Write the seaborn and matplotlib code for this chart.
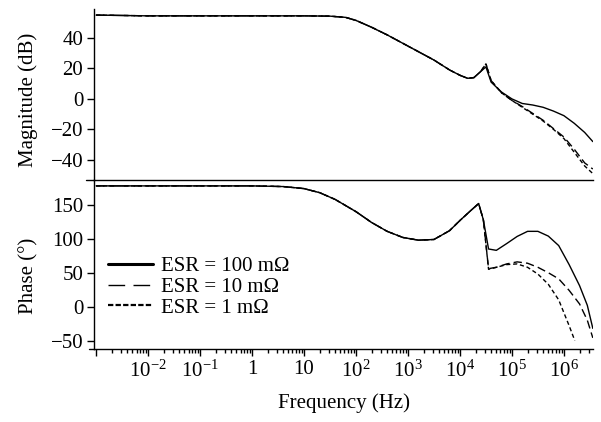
import numpy as np
import pandas as pd
import matplotlib
matplotlib.use("Agg")
import matplotlib.pyplot as plt
import seaborn as sns
from matplotlib.lines import Line2D
from matplotlib.ticker import LogLocator, FuncFormatter, NullFormatter

# -----------------------------
# Data
# -----------------------------
esr_labels = ["ESR = 100 mΩ", "ESR = 10 mΩ", "ESR = 1 mΩ"]

# magnitude (dB)
freq_mag = [1e-3, 1e-2, 1e-1, 1, 10, 31.6, 63.1, 100, 200, 398, 794, 1585,
            3162, 6310, 1e4, 1.41e4, 1.86e4, 2.51e4, 3.16e4, 3.98e4, 6.31e4,
            1e5, 1.58e5, 2.51e5, 3.98e5, 6.31e5, 1e6, 1.58e6, 2.51e6, 3.6e6]
mag_100 = [55, 54.5, 54.5, 54.5, 54.5, 54.3, 53.5, 51.5, 47, 42, 36.5, 31,
           25.5, 19, 15.5, 13.5, 14, 18, 21, 11, 4.5,
           0, -3, -4, -5.5, -8, -11, -16, -22, -28]
mag_10 = [55, 54.5, 54.5, 54.5, 54.5, 54.3, 53.5, 51.5, 47, 42, 36.5, 31,
          25.5, 19, 15.5, 13.5, 14, 18, 23, 12, 4,
          -1, -5, -9.5, -14, -19.5, -25, -33, -42, -46]
mag_1 = [55, 54.5, 54.5, 54.5, 54.5, 54.3, 53.5, 51.5, 47, 42, 36.5, 31,
         25.5, 19, 15.5, 13.5, 14, 18, 23, 12, 4,
         -1, -5.5, -10, -14.5, -20, -26, -35, -44, -49]

# phase (deg)
freq_ph = [1e-3, 1e-2, 1e-1, 1, 3.98, 10, 20, 39.8, 100, 200, 398, 794, 1585,
           3162, 6310, 1e4, 1.58e4, 2.29e4, 2.82e4, 3.55e4, 5.01e4, 7.94e4,
           1.26e5, 2e5, 3.16e5, 5.01e5, 7.94e5, 1.26e6, 2e6, 2.82e6, 3.6e6]
phase_100 = [178, 178, 178, 178, 177, 174, 168, 158, 140, 124, 111, 102, 98,
             99, 112, 127, 141, 152, 128, 85, 83, 93,
             103.5, 111, 111, 104, 90, 62, 31, 2, -32]
phase_10 = [178, 178, 178, 178, 177, 174, 168, 158, 140, 124, 111, 102, 98,
            99, 112, 127, 141, 152, 128, 56, 58, 63,
            66, 64, 58, 50, 41, 24, 4, -20, -46]
freq_ph_1 = [1e-3, 1e-2, 1e-1, 1, 3.98, 10, 20, 39.8, 100, 200, 398, 794, 1585,
             3162, 6310, 1e4, 1.58e4, 2.29e4, 2.82e4, 3.55e4, 5.01e4, 7.94e4,
             1.26e5, 2e5, 3.16e5, 5.01e5, 7.94e5, 1.26e6, 1.62e6]
phase_1 = [178, 178, 178, 178, 177, 174, 168, 158, 140, 124, 111, 102, 98,
           99, 112, 127, 141, 152, 128, 55, 58, 62,
           63, 58, 48, 33, 10, -28, -50]

mag_ticks = [-40, -20, 0, 20, 40]
phase_ticks = [-50, 0, 50, 100, 150]


def long_form(series):
    frames = []
    for label, (f, v) in zip(esr_labels, series):
        frames.append(pd.DataFrame({"freq": f, "value": v, "esr": label}))
    return pd.concat(frames, ignore_index=True)


df_mag = long_form([(freq_mag, mag_100), (freq_mag, mag_10), (freq_mag, mag_1)])
df_ph = long_form([(freq_ph, phase_100), (freq_ph, phase_10), (freq_ph_1, phase_1)])

# -----------------------------
# Style
# -----------------------------
sns.set_style("ticks")
plt.rcParams["font.family"] = ["Liberation Serif", "DejaVu Serif"]
plt.rcParams["mathtext.fontset"] = "custom"
plt.rcParams["mathtext.rm"] = "Liberation Serif"
plt.rcParams["mathtext.it"] = "Liberation Serif:italic"
plt.rcParams["font.size"] = 15
plt.rcParams["axes.linewidth"] = 1.0
for key in ["text.color", "axes.labelcolor", "axes.edgecolor",
            "xtick.color", "ytick.color"]:
    plt.rcParams[key] = "black"

FS = 15
palette = {lab: "black" for lab in esr_labels}
dashes = {esr_labels[0]: "", esr_labels[1]: (6, 3), esr_labels[2]: (3, 2)}

fig = plt.figure(figsize=(6.01, 4.22), dpi=100)
ax_ph = fig.add_axes([0.1572, 0.1730, 0.8295, 0.4005])
ax_mag = fig.add_axes([0.1572, 0.5742, 0.8295, 0.4045])
ax_mag.patch.set_alpha(0)

for ax, df in [(ax_mag, df_mag), (ax_ph, df_ph)]:
    ax.set_xscale("log")
    sns.lineplot(data=df, x="freq", y="value", hue="esr", style="esr",
                 palette=palette, dashes=dashes, estimator=None, sort=False,
                 lw=1.0, legend=False, ax=ax)
    ax.set_xlim(9.3e-4, 3.63e6)
    sns.despine(ax=ax)
    ax.tick_params(axis="y", direction="out", length=5, width=1, pad=3,
                   labelsize=FS)
    ax.set_xlabel("")

# magnitude panel
ax_mag.set_ylim(-53, 59)
ax_mag.set_yticks(mag_ticks)
ax_mag.tick_params(axis="x", which="both", bottom=False, labelbottom=False)
ax_mag.set_ylabel("Magnitude (dB)", fontsize=FS)
ax_mag.yaxis.set_label_coords(-0.113, 0.467)
ax_mag.plot([-0.017, 0], [0, 0], transform=ax_mag.transAxes, color="black",
            lw=1.0, clip_on=False)

# phase panel
ax_ph.set_ylim(-62.4, 186.7)
ax_ph.set_yticks(phase_ticks)
ax_ph.set_ylabel("Phase (°)", fontsize=FS)
ax_ph.yaxis.set_label_coords(-0.113, 0.432)
ax_ph.plot([-0.011, 0], [0, 0], transform=ax_ph.transAxes, color="black",
           lw=1.0, clip_on=False)


def decade_label(x, pos):
    e = int(round(np.log10(x)))
    if e <= -3:
        return ""
    if e == 0:
        return "1"
    if e == 1:
        return "10"
    return r"$\mathregular{10^{%d}}$" % e


ax_ph.xaxis.set_major_locator(LogLocator(base=10, numticks=20))
ax_ph.xaxis.set_minor_locator(LogLocator(base=10, subs=np.arange(2, 10), numticks=20))
ax_ph.xaxis.set_major_formatter(FuncFormatter(decade_label))
ax_ph.xaxis.set_minor_formatter(NullFormatter())
ax_ph.tick_params(axis="x", which="major", direction="out", length=5, width=1,
                  pad=3, labelsize=FS)
ax_ph.tick_params(axis="x", which="minor", direction="out", length=3, width=1)
ax_ph.set_xlabel("Frequency (Hz)", fontsize=FS)
ax_ph.xaxis.set_label_coords(0.5, -0.26)

# legend
handles = [
    Line2D([], [], color="black", lw=2.2),
    Line2D([], [], color="black", lw=1.0, dashes=(12, 6)),
    Line2D([], [], color="black", lw=1.6, dashes=(2.4, 1)),
]
ax_ph.legend(handles, esr_labels, loc="upper left", bbox_to_anchor=(0.027, 0.545),
             frameon=False, fontsize=FS, handlelength=2.15, handletextpad=0.4,
             labelspacing=0.05, borderaxespad=0, borderpad=0)

fig.savefig("out.png", dpi=100)
